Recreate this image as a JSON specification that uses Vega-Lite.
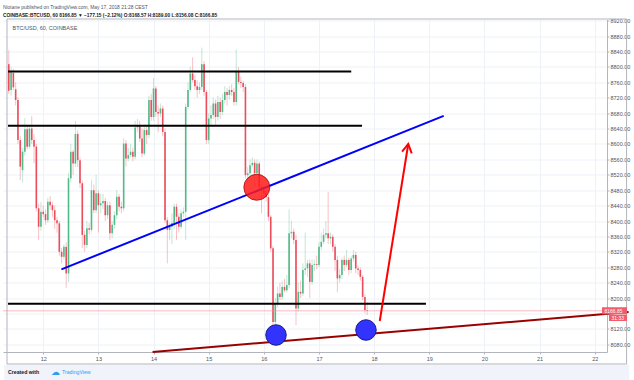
{
"$schema":"https://vega.github.io/schema/vega-lite/v6.json",
"width":604,"height":332.5,
"autosize":{"type":"none"},
"padding":{"left":3,"top":19.5,"right":27,"bottom":28},
"background":"white",
"title":{"text":"Niotane published on TradingView.com, May 17, 2018 21:28 CEST","subtitle":"COINBASE:BTCUSD, 60  8166.85 ▼ −177.15 (−2.12%)  O:8168.57 H:8189.00 L:8156.08 C:8166.85","anchor":"start","frame":"group","font":"Liberation Sans","fontSize":4.9,"fontWeight":"normal","color":"#50535e","subtitleFont":"Liberation Sans","subtitleFontSize":4.8,"subtitleColor":"#131722","subtitleFontWeight":"bold","offset":0.5,"subtitlePadding":3.5},
"datasets":{
"candles":[
{"t":"2018-05-11T09:00Z","o":8807,"h":8843,"l":8730,"c":8738},
{"t":"2018-05-11T10:00Z","o":8740,"h":8800,"l":8725,"c":8786},
{"t":"2018-05-11T11:00Z","o":8784,"h":8795,"l":8740,"c":8747},
{"t":"2018-05-11T12:00Z","o":8742,"h":8760,"l":8700,"c":8714},
{"t":"2018-05-11T13:00Z","o":8714,"h":8722,"l":8600,"c":8610},
{"t":"2018-05-11T14:00Z","o":8610,"h":8620,"l":8506,"c":8541},
{"t":"2018-05-11T15:00Z","o":8532,"h":8590,"l":8500,"c":8580},
{"t":"2018-05-11T16:00Z","o":8580,"h":8667,"l":8570,"c":8638},
{"t":"2018-05-11T17:00Z","o":8638,"h":8650,"l":8585,"c":8593},
{"t":"2018-05-11T18:00Z","o":8593,"h":8648,"l":8588,"c":8640},
{"t":"2018-05-11T19:00Z","o":8640,"h":8672,"l":8600,"c":8610},
{"t":"2018-05-11T20:00Z","o":8610,"h":8625,"l":8550,"c":8593},
{"t":"2018-05-11T21:00Z","o":8593,"h":8600,"l":8425,"c":8433},
{"t":"2018-05-11T22:00Z","o":8433,"h":8445,"l":8351,"c":8385},
{"t":"2018-05-11T23:00Z","o":8385,"h":8450,"l":8375,"c":8424},
{"t":"2018-05-12T00:00Z","o":8424,"h":8440,"l":8410,"c":8418},
{"t":"2018-05-12T01:00Z","o":8418,"h":8430,"l":8390,"c":8402},
{"t":"2018-05-12T02:00Z","o":8402,"h":8460,"l":8395,"c":8450},
{"t":"2018-05-12T03:00Z","o":8450,"h":8465,"l":8430,"c":8441},
{"t":"2018-05-12T04:00Z","o":8441,"h":8450,"l":8410,"c":8428},
{"t":"2018-05-12T05:00Z","o":8428,"h":8440,"l":8380,"c":8402},
{"t":"2018-05-12T06:00Z","o":8402,"h":8410,"l":8370,"c":8394},
{"t":"2018-05-12T07:00Z","o":8394,"h":8400,"l":8310,"c":8320},
{"t":"2018-05-12T08:00Z","o":8320,"h":8330,"l":8290,"c":8307},
{"t":"2018-05-12T09:00Z","o":8307,"h":8340,"l":8300,"c":8333},
{"t":"2018-05-12T10:00Z","o":8333,"h":8345,"l":8226,"c":8264},
{"t":"2018-05-12T11:00Z","o":8264,"h":8525,"l":8242,"c":8511},
{"t":"2018-05-12T12:00Z","o":8511,"h":8600,"l":8500,"c":8580},
{"t":"2018-05-12T13:00Z","o":8580,"h":8585,"l":8520,"c":8549},
{"t":"2018-05-12T14:00Z","o":8549,"h":8660,"l":8540,"c":8626},
{"t":"2018-05-12T15:00Z","o":8626,"h":8635,"l":8540,"c":8558},
{"t":"2018-05-12T16:00Z","o":8558,"h":8565,"l":8485,"c":8498},
{"t":"2018-05-12T17:00Z","o":8498,"h":8505,"l":8330,"c":8364},
{"t":"2018-05-12T18:00Z","o":8364,"h":8375,"l":8320,"c":8338},
{"t":"2018-05-12T19:00Z","o":8338,"h":8400,"l":8330,"c":8381},
{"t":"2018-05-12T20:00Z","o":8381,"h":8395,"l":8365,"c":8377},
{"t":"2018-05-12T21:00Z","o":8377,"h":8506,"l":8370,"c":8480},
{"t":"2018-05-12T22:00Z","o":8480,"h":8495,"l":8420,"c":8428},
{"t":"2018-05-12T23:00Z","o":8428,"h":8520,"l":8420,"c":8472},
{"t":"2018-05-13T00:00Z","o":8472,"h":8480,"l":8370,"c":8441},
{"t":"2018-05-13T01:00Z","o":8441,"h":8470,"l":8420,"c":8446},
{"t":"2018-05-13T02:00Z","o":8446,"h":8470,"l":8430,"c":8452},
{"t":"2018-05-13T03:00Z","o":8452,"h":8460,"l":8400,"c":8415},
{"t":"2018-05-13T04:00Z","o":8415,"h":8450,"l":8405,"c":8441},
{"t":"2018-05-13T05:00Z","o":8441,"h":8450,"l":8351,"c":8368},
{"t":"2018-05-13T06:00Z","o":8368,"h":8400,"l":8355,"c":8390},
{"t":"2018-05-13T07:00Z","o":8390,"h":8425,"l":8380,"c":8415},
{"t":"2018-05-13T08:00Z","o":8415,"h":8480,"l":8405,"c":8463},
{"t":"2018-05-13T09:00Z","o":8463,"h":8470,"l":8425,"c":8437},
{"t":"2018-05-13T10:00Z","o":8437,"h":8450,"l":8420,"c":8433},
{"t":"2018-05-13T11:00Z","o":8433,"h":8615,"l":8425,"c":8601},
{"t":"2018-05-13T12:00Z","o":8601,"h":8610,"l":8541,"c":8562},
{"t":"2018-05-13T13:00Z","o":8562,"h":8590,"l":8555,"c":8571},
{"t":"2018-05-13T14:00Z","o":8571,"h":8600,"l":8565,"c":8580},
{"t":"2018-05-13T15:00Z","o":8580,"h":8590,"l":8555,"c":8567},
{"t":"2018-05-13T16:00Z","o":8567,"h":8660,"l":8560,"c":8643},
{"t":"2018-05-13T17:00Z","o":8643,"h":8665,"l":8630,"c":8649},
{"t":"2018-05-13T18:00Z","o":8649,"h":8660,"l":8605,"c":8614},
{"t":"2018-05-13T19:00Z","o":8614,"h":8640,"l":8565,"c":8575},
{"t":"2018-05-13T20:00Z","o":8575,"h":8650,"l":8570,"c":8636},
{"t":"2018-05-13T21:00Z","o":8636,"h":8645,"l":8600,"c":8623},
{"t":"2018-05-13T22:00Z","o":8623,"h":8725,"l":8615,"c":8714},
{"t":"2018-05-13T23:00Z","o":8714,"h":8730,"l":8660,"c":8670},
{"t":"2018-05-14T00:00Z","o":8670,"h":8771,"l":8660,"c":8744},
{"t":"2018-05-14T01:00Z","o":8744,"h":8750,"l":8670,"c":8683},
{"t":"2018-05-14T02:00Z","o":8683,"h":8700,"l":8630,"c":8679},
{"t":"2018-05-14T03:00Z","o":8679,"h":8705,"l":8670,"c":8692},
{"t":"2018-05-14T04:00Z","o":8692,"h":8700,"l":8620,"c":8631},
{"t":"2018-05-14T05:00Z","o":8631,"h":8640,"l":8395,"c":8402},
{"t":"2018-05-14T06:00Z","o":8402,"h":8410,"l":8290,"c":8377},
{"t":"2018-05-14T07:00Z","o":8377,"h":8395,"l":8350,"c":8385},
{"t":"2018-05-14T08:00Z","o":8385,"h":8420,"l":8340,"c":8395},
{"t":"2018-05-14T09:00Z","o":8395,"h":8445,"l":8380,"c":8437},
{"t":"2018-05-14T10:00Z","o":8437,"h":8445,"l":8351,"c":8411},
{"t":"2018-05-14T11:00Z","o":8411,"h":8420,"l":8370,"c":8385},
{"t":"2018-05-14T12:00Z","o":8385,"h":8430,"l":8380,"c":8420},
{"t":"2018-05-14T13:00Z","o":8420,"h":8435,"l":8410,"c":8424},
{"t":"2018-05-14T14:00Z","o":8424,"h":8705,"l":8350,"c":8696},
{"t":"2018-05-14T15:00Z","o":8696,"h":8760,"l":8690,"c":8740},
{"t":"2018-05-14T16:00Z","o":8740,"h":8800,"l":8735,"c":8783},
{"t":"2018-05-14T17:00Z","o":8783,"h":8825,"l":8760,"c":8766},
{"t":"2018-05-14T18:00Z","o":8766,"h":8780,"l":8740,"c":8750},
{"t":"2018-05-14T19:00Z","o":8750,"h":8765,"l":8720,"c":8740},
{"t":"2018-05-14T20:00Z","o":8740,"h":8760,"l":8730,"c":8748},
{"t":"2018-05-14T21:00Z","o":8748,"h":8850,"l":8740,"c":8807},
{"t":"2018-05-14T22:00Z","o":8807,"h":8815,"l":8725,"c":8735},
{"t":"2018-05-14T23:00Z","o":8735,"h":8740,"l":8600,"c":8610},
{"t":"2018-05-15T00:00Z","o":8610,"h":8680,"l":8600,"c":8666},
{"t":"2018-05-15T01:00Z","o":8666,"h":8700,"l":8650,"c":8675},
{"t":"2018-05-15T02:00Z","o":8675,"h":8720,"l":8665,"c":8705},
{"t":"2018-05-15T03:00Z","o":8705,"h":8715,"l":8650,"c":8670},
{"t":"2018-05-15T04:00Z","o":8670,"h":8725,"l":8660,"c":8709},
{"t":"2018-05-15T05:00Z","o":8709,"h":8720,"l":8665,"c":8683},
{"t":"2018-05-15T06:00Z","o":8683,"h":8730,"l":8675,"c":8714},
{"t":"2018-05-15T07:00Z","o":8714,"h":8750,"l":8705,"c":8735},
{"t":"2018-05-15T08:00Z","o":8735,"h":8745,"l":8700,"c":8727},
{"t":"2018-05-15T09:00Z","o":8727,"h":8750,"l":8715,"c":8740},
{"t":"2018-05-15T10:00Z","o":8740,"h":8755,"l":8725,"c":8735},
{"t":"2018-05-15T11:00Z","o":8735,"h":8745,"l":8700,"c":8709},
{"t":"2018-05-15T12:00Z","o":8709,"h":8845,"l":8700,"c":8787},
{"t":"2018-05-15T13:00Z","o":8787,"h":8800,"l":8755,"c":8761},
{"t":"2018-05-15T14:00Z","o":8761,"h":8775,"l":8745,"c":8758},
{"t":"2018-05-15T15:00Z","o":8758,"h":8765,"l":8735,"c":8748},
{"t":"2018-05-15T16:00Z","o":8748,"h":8755,"l":8510,"c":8519},
{"t":"2018-05-15T17:00Z","o":8519,"h":8540,"l":8500,"c":8524},
{"t":"2018-05-15T18:00Z","o":8524,"h":8560,"l":8515,"c":8545},
{"t":"2018-05-15T19:00Z","o":8545,"h":8565,"l":8540,"c":8551},
{"t":"2018-05-15T20:00Z","o":8551,"h":8560,"l":8490,"c":8524},
{"t":"2018-05-15T21:00Z","o":8524,"h":8560,"l":8515,"c":8549},
{"t":"2018-05-15T22:00Z","o":8549,"h":8555,"l":8480,"c":8489},
{"t":"2018-05-15T23:00Z","o":8489,"h":8500,"l":8420,"c":8480},
{"t":"2018-05-16T00:00Z","o":8480,"h":8490,"l":8460,"c":8472},
{"t":"2018-05-16T01:00Z","o":8472,"h":8480,"l":8450,"c":8462},
{"t":"2018-05-16T02:00Z","o":8462,"h":8470,"l":8400,"c":8411},
{"t":"2018-05-16T03:00Z","o":8411,"h":8415,"l":8320,"c":8329},
{"t":"2018-05-16T04:00Z","o":8329,"h":8335,"l":8105,"c":8138},
{"t":"2018-05-16T05:00Z","o":8138,"h":8200,"l":8120,"c":8186},
{"t":"2018-05-16T06:00Z","o":8186,"h":8230,"l":8175,"c":8212},
{"t":"2018-05-16T07:00Z","o":8212,"h":8240,"l":8195,"c":8203},
{"t":"2018-05-16T08:00Z","o":8203,"h":8245,"l":8195,"c":8229},
{"t":"2018-05-16T09:00Z","o":8229,"h":8250,"l":8215,"c":8220},
{"t":"2018-05-16T10:00Z","o":8220,"h":8260,"l":8215,"c":8234},
{"t":"2018-05-16T11:00Z","o":8234,"h":8430,"l":8225,"c":8368},
{"t":"2018-05-16T12:00Z","o":8368,"h":8400,"l":8355,"c":8372},
{"t":"2018-05-16T13:00Z","o":8372,"h":8380,"l":8340,"c":8351},
{"t":"2018-05-16T14:00Z","o":8351,"h":8365,"l":8130,"c":8173},
{"t":"2018-05-16T15:00Z","o":8173,"h":8240,"l":8165,"c":8216},
{"t":"2018-05-16T16:00Z","o":8216,"h":8245,"l":8200,"c":8212},
{"t":"2018-05-16T17:00Z","o":8212,"h":8290,"l":8205,"c":8273},
{"t":"2018-05-16T18:00Z","o":8273,"h":8370,"l":8260,"c":8277},
{"t":"2018-05-16T19:00Z","o":8277,"h":8300,"l":8255,"c":8290},
{"t":"2018-05-16T20:00Z","o":8290,"h":8300,"l":8200,"c":8242},
{"t":"2018-05-16T21:00Z","o":8242,"h":8300,"l":8235,"c":8286},
{"t":"2018-05-16T22:00Z","o":8286,"h":8300,"l":8270,"c":8288},
{"t":"2018-05-16T23:00Z","o":8288,"h":8310,"l":8275,"c":8286},
{"t":"2018-05-17T00:00Z","o":8286,"h":8345,"l":8280,"c":8333},
{"t":"2018-05-17T01:00Z","o":8333,"h":8370,"l":8325,"c":8346},
{"t":"2018-05-17T02:00Z","o":8346,"h":8380,"l":8340,"c":8364},
{"t":"2018-05-17T03:00Z","o":8364,"h":8400,"l":8355,"c":8368},
{"t":"2018-05-17T04:00Z","o":8368,"h":8475,"l":8340,"c":8355},
{"t":"2018-05-17T05:00Z","o":8355,"h":8370,"l":8340,"c":8359},
{"t":"2018-05-17T06:00Z","o":8359,"h":8365,"l":8320,"c":8333},
{"t":"2018-05-17T07:00Z","o":8333,"h":8340,"l":8270,"c":8299},
{"t":"2018-05-17T08:00Z","o":8299,"h":8310,"l":8215,"c":8251},
{"t":"2018-05-17T09:00Z","o":8251,"h":8275,"l":8240,"c":8260},
{"t":"2018-05-17T10:00Z","o":8260,"h":8305,"l":8250,"c":8299},
{"t":"2018-05-17T11:00Z","o":8299,"h":8310,"l":8270,"c":8286},
{"t":"2018-05-17T12:00Z","o":8286,"h":8325,"l":8280,"c":8299},
{"t":"2018-05-17T13:00Z","o":8299,"h":8305,"l":8260,"c":8273},
{"t":"2018-05-17T14:00Z","o":8273,"h":8310,"l":8265,"c":8303},
{"t":"2018-05-17T15:00Z","o":8303,"h":8325,"l":8295,"c":8312},
{"t":"2018-05-17T16:00Z","o":8312,"h":8320,"l":8265,"c":8277},
{"t":"2018-05-17T17:00Z","o":8277,"h":8285,"l":8260,"c":8273},
{"t":"2018-05-17T18:00Z","o":8273,"h":8280,"l":8245,"c":8255},
{"t":"2018-05-17T19:00Z","o":8255,"h":8260,"l":8195,"c":8203},
{"t":"2018-05-17T20:00Z","o":8203,"h":8210,"l":8160,"c":8169},
{"t":"2018-05-17T21:00Z","o":8168.57,"h":8189,"l":8156.08,"c":8166.85}
],
"hlines":[
{"t":"2018-05-11T08:40Z","t2":"2018-05-17T14:02Z","v":8788},
{"t":"2018-05-11T08:40Z","t2":"2018-05-17T18:44Z","v":8647},
{"t":"2018-05-11T08:40Z","t2":"2018-05-18T22:33Z","v":8185}
]
},
"layer":[
{"data":{"values":[{"t":"2018-05-11T07:00Z","t2":"2018-05-22T15:00Z","v":8027.6,"v2":7980}]},
 "mark":{"type":"rect","fill":"#f0f3fa"},
 "encoding":{"x":{"field":"t","type":"temporal","scale":{"type":"utc","domain":[{"year":2018,"month":5,"date":11,"hours":8,"minutes":40,"utc":true},{"year":2018,"month":5,"date":22,"hours":3,"minutes":10,"utc":true}]},"title":null,
   "axis":{"values":[{"year":2018,"month":5,"date":12,"utc":true},{"year":2018,"month":5,"date":13,"utc":true},{"year":2018,"month":5,"date":14,"utc":true},{"year":2018,"month":5,"date":15,"utc":true},{"year":2018,"month":5,"date":16,"utc":true},{"year":2018,"month":5,"date":17,"utc":true},{"year":2018,"month":5,"date":18,"utc":true},{"year":2018,"month":5,"date":19,"utc":true},{"year":2018,"month":5,"date":20,"utc":true},{"year":2018,"month":5,"date":21,"utc":true},{"year":2018,"month":5,"date":22,"utc":true}],"tickCount":30,"labelExpr":"utcFormat(datum.value, '%-d')","labelOverlap":false,"labelFlush":false}},
 "x2":{"field":"t2"},
 "y":{"field":"v","type":"quantitative","scale":{"domain":[8060,8923],"nice":false,"zero":false},"title":null,
   "axis":{"orient":"right","values":[8080,8120,8160,8200,8240,8280,8320,8360,8400,8440,8480,8520,8560,8600,8640,8680,8720,8760,8800,8840,8880,8920],"tickCount":40,"labelExpr":"datum.value == 8160 ? '' : format(datum.value, '.2f')","labelOverlap":false,"labelFlush":false}},
 "y2":{"field":"v2"}}},
{"data":{"values":[{"t":"2018-05-11T08:14Z","t2":"2018-05-22T13:52Z","v":8924.3,"v2":8028.9}]},
 "mark":{"type":"rect","fill":null,"stroke":"#b2b5be","strokeWidth":1},
 "encoding":{"x":{"field":"t","type":"temporal","title":null},"x2":{"field":"t2"},
 "y":{"field":"v","type":"quantitative","title":null},"y2":{"field":"v2"}}},
{"data":{"name":"candles"},
 "mark":{"type":"rule","strokeWidth":1,"opacity":0.35},
 "encoding":{"x":{"field":"t","type":"temporal","title":null},
 "y":{"field":"l","type":"quantitative","title":null},"y2":{"field":"h"},
 "color":{"condition":{"test":"datum.c >= datum.o","value":"#53b987"},"value":"#eb4d5c"}}},
{"data":{"name":"candles"},
 "mark":{"type":"bar","size":1.6},
 "encoding":{"x":{"field":"t","type":"temporal","title":null},
 "y":{"field":"o","type":"quantitative","title":null},
 "y2":{"field":"c"},
 "color":{"condition":{"test":"datum.c >= datum.o","value":"#53b987"},"value":"#eb4d5c"}}},
{"data":{"values":[{"v":8166.85}]},
 "mark":{"type":"rule","color":"#f28b95","strokeWidth":1,"opacity":0.6},
 "encoding":{"y":{"field":"v","type":"quantitative","title":null}}},
{"data":{"name":"hlines"},
 "mark":{"type":"rule","color":"#000000","strokeWidth":2},
 "encoding":{"x":{"field":"t","type":"temporal","title":null},"x2":{"field":"t2"},"y":{"field":"v","type":"quantitative","title":null}}},
{"data":{"values":[{"t":"2018-05-12T07:55Z","v":8274.5},{"t":"2018-05-19T06:16Z","v":8672.7}]},
 "mark":{"type":"line","color":"#0000ff","strokeWidth":2},
 "encoding":{"x":{"field":"t","type":"temporal","title":null},"y":{"field":"v","type":"quantitative","title":null}}},
{"data":{"values":[{"t":"2018-05-13T23:35Z","v":8060},{"t":"2018-05-22T14:44Z","v":8163.8}]},
 "mark":{"type":"line","color":"#990000","strokeWidth":2,"clip":false},
 "encoding":{"x":{"field":"t","type":"temporal","title":null},"y":{"field":"v","type":"quantitative","title":null}}},
{"data":{"values":[
 {"part":"shaft","ord":1,"t":"2018-05-18T02:27Z","v":8140.4},
 {"part":"shaft","ord":2,"t":"2018-05-18T14:51Z","v":8599.9},
 {"part":"head","ord":1,"t":"2018-05-18T12:10Z","v":8579.9},
 {"part":"head","ord":2,"t":"2018-05-18T14:51Z","v":8599.9},
 {"part":"head","ord":3,"t":"2018-05-18T16:21Z","v":8575.5}]},
 "mark":{"type":"line","color":"#ff0000","strokeWidth":2,"strokeJoin":"miter"},
 "encoding":{"x":{"field":"t","type":"temporal","title":null},"y":{"field":"v","type":"quantitative","title":null},"detail":{"field":"part"},"order":{"field":"ord"}}},
{"data":{"values":[{"t":"2018-05-15T20:57Z","v":8487.5}]},
 "mark":{"type":"point","filled":true,"fill":"#ff1a1a","fillOpacity":0.85,"stroke":"#9a0000","strokeWidth":1,"strokeOpacity":0.7,"size":676,"shape":"circle"},
 "encoding":{"x":{"field":"t","type":"temporal","title":null},"y":{"field":"v","type":"quantitative","title":null}}},
{"data":{"values":[{"t":"2018-05-16T05:18Z","v":8104.1},{"t":"2018-05-17T20:27Z","v":8117.1}]},
 "mark":{"type":"point","filled":true,"fill":"#3333ff","fillOpacity":1,"stroke":"#1a1a8c","strokeWidth":1,"size":420,"shape":"circle"},
 "encoding":{"x":{"field":"t","type":"temporal","title":null},"y":{"field":"v","type":"quantitative","title":null}}},
{"data":{"values":[{"t":"2018-05-11T08:40Z","v":8923,"label":"BTC/USD, 60, COINBASE"}]},
 "mark":{"type":"text","align":"left","baseline":"middle","dx":4.5,"dy":8,"fontSize":5.5,"font":"Liberation Sans","color":"#50535e"},
 "encoding":{"x":{"field":"t","type":"temporal","title":null},"y":{"field":"v","type":"quantitative","title":null},"text":{"field":"label"}}},
{"data":{"values":[{"t":"2018-05-22T03:10Z","v":8166.85}]},
 "mark":{"type":"point","shape":"M0,-0.28H2V0.28H0ZM0.56,0.32H2V0.82H0.56Z","size":625,"filled":true,"color":"#ef5c6c","opacity":1,"clip":false},
 "encoding":{"x":{"field":"t","type":"temporal","title":null},"y":{"field":"v","type":"quantitative","title":null}}},
{"data":{"values":[{"t":"2018-05-22T03:10Z","v":8166.85,"label":"8166.85"}]},
 "mark":{"type":"text","align":"left","baseline":"middle","dx":2.5,"fontSize":5,"font":"Liberation Sans","color":"#ffffff"},
 "encoding":{"x":{"field":"t","type":"temporal","title":null},"y":{"field":"v","type":"quantitative","title":null},"text":{"field":"label"}}},
{"data":{"values":[{"t":"2018-05-22T03:10Z","v":8166.85,"label":"31:33"}]},
 "mark":{"type":"text","align":"left","baseline":"middle","dx":9.5,"dy":7,"fontSize":5,"font":"Liberation Sans","color":"#ffffff"},
 "encoding":{"x":{"field":"t","type":"temporal","title":null},"y":{"field":"v","type":"quantitative","title":null},"text":{"field":"label"}}},
{"data":{"values":[{"t":"2018-05-11T08:40Z","v":8008,"label":"Created with"}]},
 "mark":{"type":"text","align":"left","baseline":"middle","dx":0,"fontSize":5.2,"fontWeight":"bold","font":"Liberation Sans","color":"#131722"},
 "encoding":{"x":{"field":"t","type":"temporal","title":null},"y":{"field":"v","type":"quantitative","title":null},"text":{"field":"label"}}},
{"data":{"values":[{"t":"2018-05-11T08:40Z","v":8008,"label":"☁"}]},
 "mark":{"type":"text","align":"left","baseline":"middle","dx":43,"fontSize":9,"font":"DejaVu Sans","color":"#2a9df4"},
 "encoding":{"x":{"field":"t","type":"temporal","title":null},"y":{"field":"v","type":"quantitative","title":null},"text":{"field":"label"}}},
{"data":{"values":[{"t":"2018-05-11T08:40Z","v":8008,"label":"TradingView"}]},
 "mark":{"type":"text","align":"left","baseline":"middle","dx":54,"fontSize":5.2,"font":"Liberation Sans","color":"#2a9df4"},
 "encoding":{"x":{"field":"t","type":"temporal","title":null},"y":{"field":"v","type":"quantitative","title":null},"text":{"field":"label"}}}
],
"config":{
 "view":{"stroke":null},
 "font":"Liberation Sans",
 "axis":{"labelFont":"Liberation Sans","labelFontSize":5.5,"labelColor":"#50535e","domainColor":"#b2b5be","tickColor":"#b2b5be","gridColor":"#eef1f6","grid":true,"tickSize":2},
 "axisX":{"labelPadding":2},
 "axisY":{"labelPadding":1}
}
}
